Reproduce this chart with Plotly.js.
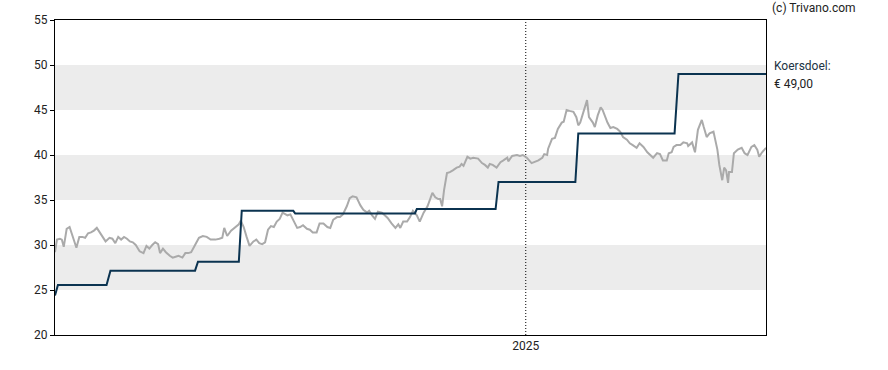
<!DOCTYPE html>
<html>
<head>
<meta charset="utf-8">
<script src="https://cdn.plot.ly/plotly-3.0.1.min.js"></script>
<style>
html,body{margin:0;padding:0;background:#fff;}
#chart{width:888px;height:370px;}
</style>
</head>
<body>
<div id="chart"></div>
<script>
// Share price (grey line)
var priceDates = [
"2023-09-05","2023-09-07","2023-09-10","2023-09-12","2023-09-14","2023-09-17","2023-09-20","2023-09-24","2023-09-27","2023-09-30",
"2023-10-03","2023-10-06","2023-10-09","2023-10-12","2023-10-15","2023-10-18","2023-10-21","2023-10-24","2023-10-27","2023-10-31",
"2023-11-03","2023-11-06","2023-11-09","2023-11-12","2023-11-15","2023-11-18","2023-11-21","2023-11-24","2023-11-27","2023-12-01",
"2023-12-05","2023-12-08","2023-12-11","2023-12-14","2023-12-17","2023-12-20","2023-12-22","2023-12-25","2023-12-28","2024-01-01",
"2024-01-04","2024-01-07","2024-01-10","2024-01-14","2024-01-17","2024-01-20","2024-01-23","2024-01-27","2024-01-31","2024-02-04",
"2024-02-08","2024-02-12","2024-02-17","2024-02-21","2024-02-24","2024-02-26","2024-02-29","2024-03-04","2024-03-08","2024-03-12",
"2024-03-14","2024-03-17","2024-03-20","2024-03-23","2024-03-27","2024-03-30","2024-04-02","2024-04-05","2024-04-08","2024-04-11",
"2024-04-14","2024-04-17","2024-04-20","2024-04-23","2024-04-26","2024-05-01","2024-05-04","2024-05-07","2024-05-11","2024-05-14",
"2024-05-17","2024-05-21","2024-05-24","2024-05-27","2024-05-31","2024-06-03","2024-06-07","2024-06-11","2024-06-14","2024-06-17",
"2024-06-21","2024-06-24","2024-06-27","2024-07-01","2024-07-04","2024-07-07","2024-07-11","2024-07-15","2024-07-18","2024-07-22",
"2024-07-24","2024-07-27","2024-07-30","2024-08-02","2024-08-06","2024-08-09","2024-08-12","2024-08-16","2024-08-20","2024-08-23",
"2024-08-25","2024-08-28","2024-09-01","2024-09-04","2024-09-07","2024-09-11","2024-09-14","2024-09-18","2024-09-22","2024-09-27",
"2024-09-30","2024-10-03","2024-10-05","2024-10-07","2024-10-09","2024-10-12","2024-10-15","2024-10-18","2024-10-22","2024-10-25",
"2024-10-27","2024-10-29","2024-11-02","2024-11-05","2024-11-08","2024-11-13","2024-11-17","2024-11-20","2024-11-23","2024-11-25",
"2024-11-28","2024-12-02","2024-12-06","2024-12-09","2024-12-13","2024-12-14","2024-12-18","2024-12-23","2024-12-26","2024-12-29",
"2025-01-02","2025-01-07","2025-01-10","2025-01-14","2025-01-18","2025-01-20","2025-01-23","2025-01-24","2025-01-28","2025-01-31",
"2025-02-03","2025-02-07","2025-02-09","2025-02-12","2025-02-15","2025-02-19","2025-02-22","2025-02-24","2025-02-26","2025-03-01",
"2025-03-05","2025-03-07","2025-03-11","2025-03-13","2025-03-16","2025-03-19","2025-03-21","2025-03-26","2025-03-29","2025-04-01",
"2025-04-05","2025-04-08","2025-04-11","2025-04-15","2025-04-18","2025-04-21","2025-04-25","2025-04-28","2025-05-02","2025-05-06",
"2025-05-09","2025-05-12","2025-05-16","2025-05-19","2025-05-22","2025-05-26","2025-05-28","2025-05-31","2025-06-02","2025-06-05",
"2025-06-09","2025-06-12","2025-06-16","2025-06-17","2025-06-21","2025-06-24","2025-06-27","2025-07-01","2025-07-03","2025-07-06",
"2025-07-09","2025-07-13","2025-07-17","2025-07-19","2025-07-22","2025-07-24","2025-07-26","2025-07-28","2025-07-29","2025-08-01",
"2025-08-03","2025-08-07","2025-08-11","2025-08-14","2025-08-17","2025-08-21","2025-08-24","2025-08-27","2025-08-29","2025-09-01",
"2025-09-05"
];
var priceValues = [
29.2,30.6,30.7,30.6,29.8,31.8,32.0,30.8,29.7,30.9,
30.9,30.8,31.3,31.4,31.6,31.9,31.4,30.9,30.4,30.8,
30.7,30.2,30.9,30.6,30.9,30.7,30.4,30.3,30.0,29.3,
29.1,29.9,29.6,30.0,30.3,30.1,29.1,29.6,29.2,28.8,
28.6,28.7,28.8,28.6,29.1,29.1,29.2,30.0,30.8,31.0,
30.9,30.6,30.6,30.7,30.8,31.9,31.0,31.6,32.0,32.3,
32.7,32.0,30.9,29.9,30.4,30.6,30.2,30.1,30.3,31.7,
32.1,32.0,32.6,32.9,33.6,33.3,33.4,32.8,31.9,32.0,
32.2,31.8,31.7,31.4,31.4,32.4,32.4,32.0,31.9,32.8,
33.1,33.1,33.4,34.3,35.2,35.4,35.3,34.4,33.9,33.6,
33.8,33.3,32.9,33.7,33.6,33.3,33.0,32.4,31.9,32.3,
31.9,32.6,32.6,33.1,33.8,33.3,32.6,33.6,34.3,35.8,
35.3,35.1,35.1,34.3,36.1,38.0,38.1,38.3,38.6,38.7,
39.0,38.8,39.8,39.6,39.7,39.6,39.1,38.9,38.6,39.0,
38.9,38.6,39.2,39.4,39.7,39.3,39.9,40.0,39.9,40.0,
39.7,39.1,39.2,39.4,39.7,40.1,40.0,40.7,41.8,41.9,
42.9,43.6,43.7,45.0,44.9,44.8,44.2,43.3,43.6,44.7,
46.1,44.2,43.6,43.1,44.4,45.3,45.0,43.6,43.0,43.1,
42.9,42.6,42.0,41.7,41.3,41.1,40.8,41.3,40.9,40.3,
40.0,39.7,40.2,40.1,39.4,39.4,40.2,40.3,40.9,41.1,
41.1,41.4,41.3,41.0,41.4,40.3,42.8,43.9,43.1,42.0,
42.4,42.6,40.6,38.9,37.2,38.6,38.3,36.9,38.1,38.1,
40.2,40.6,40.8,40.2,40.0,40.9,41.1,40.6,39.8,40.3,
40.8
];
// Price target (dark blue step line)
var targetDates = [
"2023-09-05","2023-09-08","2023-10-28","2023-11-01","2024-01-27","2024-01-30",
"2024-03-12","2024-03-15","2024-05-07","2024-05-09","2024-09-09","2024-09-11",
"2024-12-01","2024-12-04","2025-02-21","2025-02-24","2025-06-03","2025-06-07","2025-09-05"
];
var targetValues = [
24.4,25.55,25.55,27.15,27.15,28.15,
28.15,33.8,33.8,33.5,33.5,34.0,
34.0,37.0,37.0,42.4,42.4,49.0,49.0
];
var xRange = ["2023-09-05","2025-09-05"];
var yRange = [20,55];
var yTicks = [20,25,30,35,40,45,50,55];
var xTickVals = ["2025-01-01"];
var xTickText = ["2025"];
var bands = [[25,30],[35,40],[45,50]];
var yearLine = "2025-01-01";
var copyright = "(c) Trivano.com";
var targetLabel = "Koersdoel:";
var targetText = "€ 49,00";

var shapes = bands.map(function(b){
  return {type:"rect", xref:"paper", yref:"y", x0:0, x1:1, y0:b[0], y1:b[1],
          fillcolor:"#ececec", line:{width:0}, layer:"below"};
});
shapes.push({type:"line", xref:"x", yref:"paper", x0:yearLine, x1:yearLine, y0:0, y1:1,
             line:{color:"#000", width:1, dash:"1px,2px"}, layer:"below"});

var traces = [
  {x:priceDates, y:priceValues, type:"scatter", mode:"lines",
   line:{color:"#aaaaaa", width:2}, hoverinfo:"skip"},
  {x:targetDates, y:targetValues, type:"scatter", mode:"lines",
   line:{color:"#0b3350", width:2}, hoverinfo:"skip"}
];

var layout = {
  width:888, height:370,
  margin:{l:55, r:122, t:20, b:35},
  paper_bgcolor:"#fff", plot_bgcolor:"#fff",
  showlegend:false,
  font:{family:"Roboto, Arial, sans-serif", size:12, color:"#222"},
  xaxis:{type:"date", range:xRange, showgrid:false, zeroline:false,
         showline:true, linecolor:"#000", linewidth:1, mirror:true,
         tickvals:xTickVals, ticktext:xTickText, ticks:"", tickfont:{size:12, color:"#222"}},
  yaxis:{range:yRange, tickvals:yTicks, showgrid:false, zeroline:false,
         showline:true, linecolor:"#000", linewidth:1, mirror:true,
         ticks:"outside", ticklen:4, tickcolor:"#000", tickfont:{size:12, color:"#222"}},
  shapes:shapes,
  annotations:[
    {text:copyright, xref:"paper", yref:"paper", x:1, xshift:4, y:1, yshift:12,
     xanchor:"left", yanchor:"middle", showarrow:false, font:{size:12, color:"#222"}},
    {text:targetLabel, xref:"paper", yref:"paper", x:1, xshift:6, y:1, yshift:-46,
     xanchor:"left", yanchor:"middle", showarrow:false, font:{size:12, color:"#223344"}},
    {text:targetText, xref:"paper", yref:"paper", x:1, xshift:6, y:1, yshift:-64,
     xanchor:"left", yanchor:"middle", showarrow:false, font:{size:12, color:"#222"}}
  ]
};
Plotly.newPlot("chart", traces, layout, {staticPlot:true, displayModeBar:false});
</script>
</body>
</html>
